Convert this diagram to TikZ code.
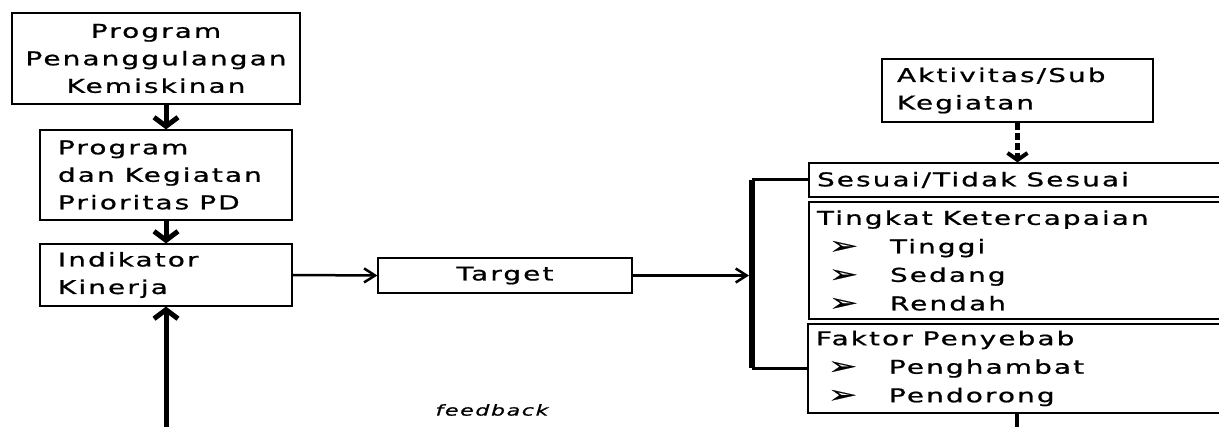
\documentclass[tikz,border=0pt]{standalone}
\usepackage{fontspec}
\usepackage{graphicx}
\setmainfont{DejaVu Sans}[FakeStretch=1.47, LetterSpace=11, FakeBold=0.9]
\newfontfamily\bulletfont{DejaVu Sans}[FakeBold=0.6]
\usetikzlibrary{arrows.meta}
\newcommand\wsp{\hspace{10pt}}
\newcommand\itm[1]{\makebox[73pt][l]{\hspace{12pt}\raisebox{-0.5pt}[0pt][0pt]{\bulletfont\fontsize{24}{20}\selectfont\scalebox{1.45}[1]{➢}}}#1}
\begin{document}
\begin{tikzpicture}[x=1pt,y=-1pt,
  font=\fontsize{19}{27.5}\selectfont,
  box/.style={draw, line width=1.2pt, inner ysep=0pt},
  lbox/.style={box, align=left},
  thickarrow/.style={line width=5pt, -{Straight Barb[length=9pt,width=24pt,line width=5pt]}},
  thinarrow/.style={line width=2.5pt, -{Straight Barb[length=11pt,width=14pt,line width=2.5pt]}},
  dasharrow/.style={line width=4.5pt, dash pattern=on 7pt off 3pt, -{Straight Barb[length=7pt,width=20pt,line width=4pt]}},
  barline/.style={line width=6pt},
  branch/.style={line width=3pt}]
\clip (0,0) rectangle (1219,427);
\fill[white] (0,0) rectangle (1219,427);

\node[box, align=center, minimum width=288pt, minimum height=91pt, inner xsep=0pt] (ppk) at (156,58.5)
  {Program\\Penanggulangan\\Kemiskinan};
\node[lbox, text width=216pt, inner xsep=18pt, minimum height=90pt] (pkp) at (166,175)
  {Program\\dan\wsp Kegiatan\\Prioritas\wsp PD};
\node[lbox, text width=216pt, inner xsep=18pt, minimum height=62pt] (ind) at (166,275)
  {Indikator\\Kinerja};
\node[box, minimum width=254pt, minimum height=35pt] (tgt) at (505,275.5) {Target};
\node[lbox, text width=241pt, inner xsep=15pt, minimum height=63pt] (akt) at (1017.5,90.5)
  {Aktivitas/Sub\\Kegiatan};
\node[lbox, text width=416pt, inner xsep=8pt, minimum height=34pt] (ses) at (1025,180)
  {Sesuai/Tidak\wsp Sesuai};
\node[lbox, text width=416pt, inner xsep=8pt, minimum height=117pt, font=\fontsize{19}{28.5}\selectfont] (tkt) at (1025,260.5)
  {Tingkat\wsp Ketercapaian\\
   \itm{Tinggi}\\
   \itm{Sedang}\\
   \itm{Rendah}};
\node[lbox, text width=416pt, inner xsep=8pt, minimum height=89pt, font=\fontsize{19}{28.5}\selectfont] (fak) at (1024,368.5)
  {Faktor\wsp Penyebab\\
   \itm{Penghambat}\\
   \itm{Pendorong}};
\node[font=\fontsize{15}{16}\selectfont\itshape] (fbt) at (492,410) {feedback};

\coordinate (bartop) at (752,180);
\coordinate (barbot) at (752,368.5);
\coordinate (barhit) at (749,275.5);
\coordinate (fbstart) at (166,432);
\coordinate (fakdown) at (1017,432);

\draw[thickarrow] (ppk.south -| pkp.north) -- (pkp.north);
\draw[thickarrow] (pkp.south) -- (ind.north);
\draw[thickarrow] (fbstart) -- (ind.south);
\draw[thinarrow] (ind.east) -- (tgt.west);
\draw[thinarrow] (tgt.east) -- (barhit);
\draw[barline] (bartop) -- (barbot);
\draw[branch] (bartop) -- (ses.west);
\draw[branch] (barbot) -- (fak.west);
\draw[dasharrow] (akt.south) -- (akt.south |- ses.north);
\draw[line width=4pt] (fak.south -| fakdown) -- (fakdown);
\end{tikzpicture}
\end{document}
